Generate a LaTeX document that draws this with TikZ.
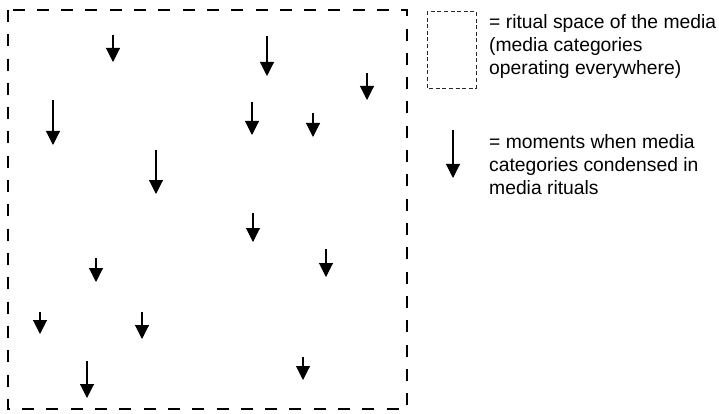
\documentclass[tikz,border=0pt]{standalone}
\usepackage{fontspec}
\setmainfont{Liberation Sans}
\usetikzlibrary{arrows.meta}
\tikzset{
  ritualspace/.style={line width=2.7pt, dash pattern=on 12pt off 12.3pt},
  legendspace/.style={line width=0.9pt, black!85, dash pattern=on 4pt off 2.6pt},
  moment/.style={line width=1.1pt, -{Triangle[width=14pt,length=14pt]}},
  legendtext/.style={anchor=north west, inner sep=0pt, align=left,
    font=\fontsize{19.3pt}{23pt}\selectfont}
}
\begin{document}
\begin{tikzpicture}[x=1pt,y=-1pt]
\useasboundingbox (0,0) rectangle (719,414);
% the ritual space of the media
\coordinate (boxnw) at (8,10);
\coordinate (boxse) at (407,409);
\draw[ritualspace] (boxnw) rectangle (boxse);
% moments of condensation: x / shaft top / tip
\foreach \x/\ya/\yb [count=\i] in {
  113/35/62, 53/100/145, 267/36/76, 367/73/100, 252/102/135,
  313/113/137, 156/150/194, 253/213/242, 326/249/277, 303/357/380,
  96/258/282, 40/312/334, 142/312/339, 87/361/398}{
  \coordinate (s\i) at (\x,\ya);
  \coordinate (t\i) at (\x,\yb);
  \draw[moment] (s\i) -- (t\i);
}
% legend
\coordinate (lgnw) at (427,11);
\coordinate (lgse) at (476,88);
\draw[legendspace] (lgnw) rectangle (lgse);
\node[legendtext] (lgspace) at (489,14)
  {= ritual space of the media\\(media categories\\operating everywhere)};
\coordinate (lgs) at (453,130);
\coordinate (lgt) at (453,178);
\draw[moment] (lgs) -- (lgt);
\node[legendtext] (lgmoment) at (489,134)
  {= moments when media\\categories condensed in\\media rituals};
\end{tikzpicture}
\end{document}
